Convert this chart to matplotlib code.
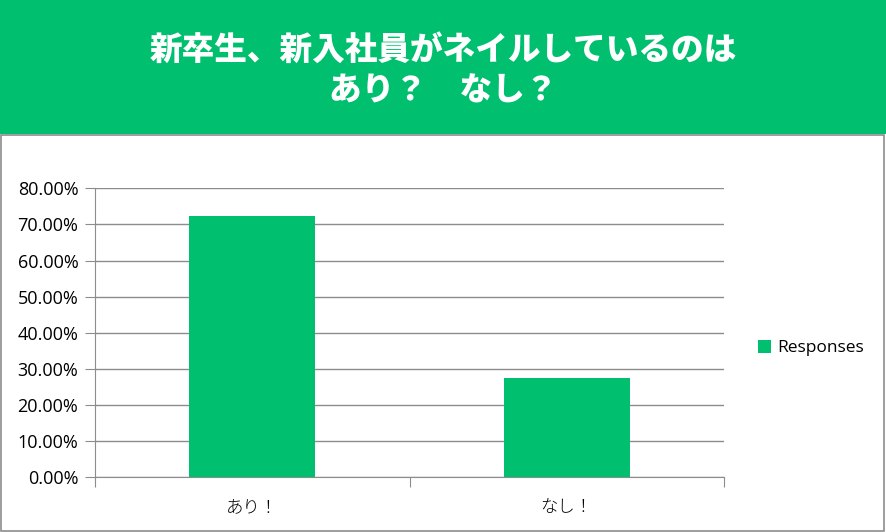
import matplotlib
matplotlib.use("Agg")
import matplotlib.pyplot as plt
from matplotlib.patches import Rectangle
from matplotlib.ticker import FuncFormatter, MultipleLocator

categories = ["あり！", "なし！"]
values = [72.4, 27.6]
series_name = "Responses"
title_lines = ["新卒生、新入社員がネイルしているのは", "あり？　なし？"]

GREEN = "#00BF6F"
W, H = 886, 532
fig = plt.figure(figsize=(W / 100, H / 100), dpi=100)
fig.patch.set_facecolor("white")

# header band
fig.patches.append(Rectangle((0, (H - 134) / H), 1, 134 / H, transform=fig.transFigure,
                             facecolor=GREEN, edgecolor="none", zorder=0))
# chart border
fig.patches.append(Rectangle((1 / W, 1 / H), (W - 3) / W, (H - 136) / H, transform=fig.transFigure,
                             facecolor="none", edgecolor="#8c8c8c", linewidth=1.2, zorder=1))

fig.text(443 / W, 1 - 50 / H, title_lines[0], ha="center", va="center", color="white",
         fontsize=23.5, fontweight="heavy", family=["Noto Sans CJK JP", "DejaVu Sans"])
fig.text(443 / W, 1 - 91 / H, title_lines[1], ha="center", va="center", color="white",
         fontsize=23.5, fontweight="heavy", family=["Noto Sans CJK JP", "DejaVu Sans"])

ax = fig.add_axes([95 / W, (H - 477.3) / H, (724 - 95) / W, (477.3 - 188.3) / H])
x = list(range(len(categories)))
ax.bar(x, values, width=0.4, color=GREEN, label=series_name, zorder=3)
ax.set_xlim(-0.5, len(categories) - 0.5)
ax.set_ylim(0, 80)
ax.yaxis.set_major_locator(MultipleLocator(10))
ax.yaxis.set_major_formatter(FuncFormatter(lambda v, p: f"{v:.2f}%"))
ax.grid(axis="y", color="#8c8c8c", linewidth=1.0, zorder=0)
ax.set_axisbelow(True)
for s in ["top", "right"]:
    ax.spines[s].set_visible(False)
ax.spines["left"].set_color("#8c8c8c")
ax.spines["bottom"].set_color("#8c8c8c")
ax.tick_params(axis="y", length=7, color="#8c8c8c", labelsize=13, labelcolor="#000000", pad=5)
ax.set_xticks([-0.5, 0.5, 1.5], minor=False)
ax.set_xticklabels([])
ax.tick_params(axis="x", length=7, color="#8c8c8c")
ax.set_xticks(x, minor=True)
ax.set_xticklabels(categories, minor=True, family=["Noto Sans CJK JP", "DejaVu Sans"],
                   fontsize=12.5, fontweight="light")
ax.tick_params(axis="x", which="minor", length=0, pad=15)
for lab in ax.get_yticklabels():
    lab.set_family(["Open Sans", "DejaVu Sans"])

leg = fig.legend(*ax.get_legend_handles_labels(), loc="center left",
                 bbox_to_anchor=(742 / W, 1 - 348 / H), frameon=False,
                 prop={"family": "Open Sans", "size": 12.5}, handlelength=0.75,
                 handleheight=0.75, handletextpad=0.4)

fig.savefig("out.png", dpi=100)
